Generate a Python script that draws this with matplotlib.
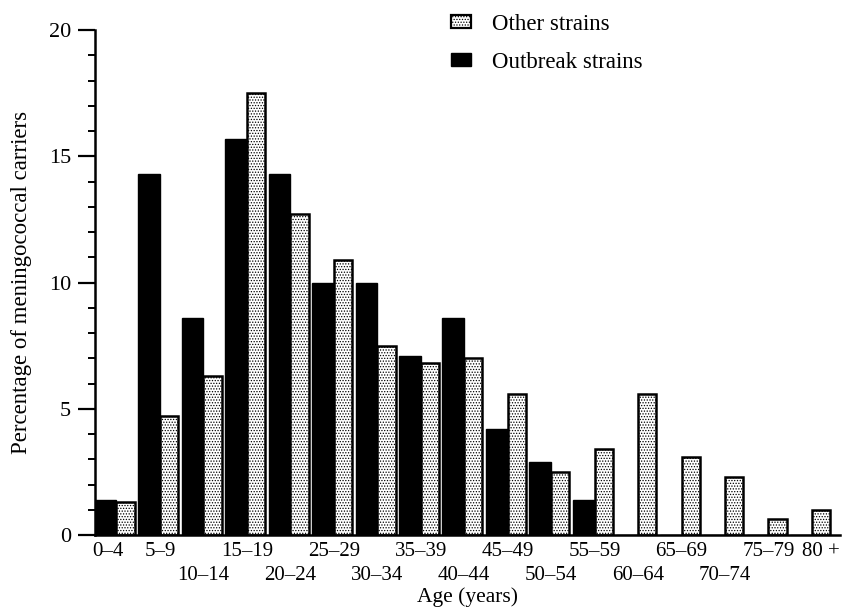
import matplotlib
matplotlib.use('Agg')
import matplotlib.pyplot as plt
from matplotlib.patches import Patch
from matplotlib.ticker import MultipleLocator, FixedLocator, FixedFormatter

plt.rcParams['font.family'] = ['Liberation Serif', 'DejaVu Serif']
plt.rcParams['hatch.linewidth'] = 0.6

# age groups and percentages
ages = ['0–4', '5–9', '10–14', '15–19', '20–24', '25–29', '30–34', '35–39', '40–44',
        '45–49', '50–54', '55–59', '60–64', '65–69', '70–74', '75–79', '80 +']
outbreak = [1.4, 14.3, 8.6, 15.7, 14.3, 10.0, 10.0, 7.1, 8.6, 4.2, 2.9, 1.4,
            0, 0, 0, 0, 0]
other = [1.3, 4.7, 6.3, 17.5, 12.7, 10.9, 7.5, 6.8, 7.0, 5.6, 2.5, 3.4,
         5.6, 3.1, 2.3, 0.65, 1.0]
# labels that go on the second row
lower_row = ['10–14', '20–24', '30–34', '40–44', '50–54', '60–64', '70–74']

fig = plt.figure(figsize=(8.53, 6.15), dpi=100)
ax = fig.add_axes([0.111, 0.13, 0.874, 0.821])

pos = list(range(len(ages)))
ax.bar([p for p in pos], outbreak, width=0.5, align='edge',
       color='black', edgecolor='black', linewidth=1.0)
ax.bar([p + 0.5 for p in pos], other, width=0.42, align='edge',
       color='white', edgecolor='black', hatch='......', linewidth=1.8)

ax.set_xlim(0, 17.15)
ax.set_ylim(0, 20)
ax.yaxis.set_major_locator(MultipleLocator(5))
ax.yaxis.set_minor_locator(MultipleLocator(1))
ax.tick_params(axis='y', which='major', length=12, width=1.6, labelsize=16, pad=5)
ax.tick_params(axis='y', which='minor', length=5, width=1.4)

# two rows of age labels: upper row as major ticks, lower row as minor ticks
centers = [p + 0.5 for p in pos]
centers[0] -= 0.2
centers[-1] += 0.2
upper = [(c, a) for c, a in zip(centers, ages) if a not in lower_row]
lower = [(c, a) for c, a in zip(centers, ages) if a in lower_row]
ax.xaxis.set_major_locator(FixedLocator([c for c, a in upper]))
ax.xaxis.set_major_formatter(FixedFormatter([a for c, a in upper]))
ax.xaxis.set_minor_locator(FixedLocator([c for c, a in lower]))
ax.xaxis.set_minor_formatter(FixedFormatter([a for c, a in lower]))
ax.tick_params(axis='x', which='both', length=0, labelsize=15)
ax.tick_params(axis='x', which='major', pad=5)
ax.tick_params(axis='x', which='minor', pad=22)

for s in ['top', 'right']:
    ax.spines[s].set_visible(False)
ax.spines['left'].set_linewidth(1.8)
ax.spines['bottom'].set_linewidth(1.8)

ax.set_ylabel('Percentage of meningococcal carriers', fontsize=16.5, labelpad=12)
ax.set_xlabel('Age (years)', fontsize=15.5, labelpad=2)

handles = [Patch(facecolor='white', edgecolor='black', hatch='......', linewidth=1.6),
           Patch(facecolor='black', edgecolor='black')]
ax.legend(handles, ['Other strains', 'Outbreak strains'], loc='upper left',
          bbox_to_anchor=(0.462, 1.055), frameon=False, fontsize=16.5,
          borderpad=0, handlelength=0.9, handleheight=0.5, handletextpad=0.9,
          labelspacing=0.75)

fig.savefig('out.png', dpi=100)
